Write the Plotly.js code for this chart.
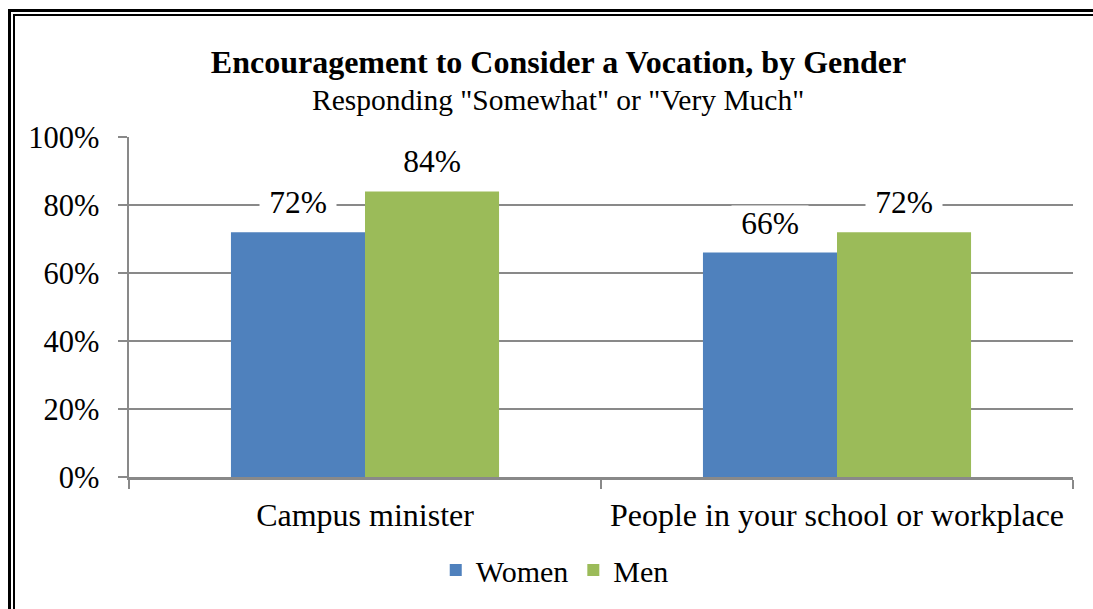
<!DOCTYPE html>
<html>
<head>
<meta charset="utf-8">
<script src="https://cdn.plot.ly/plotly-3.0.1.min.js"></script>
<style>
  html, body { margin: 0; padding: 0; background: #fff; overflow: hidden; }
  #wrap { position: relative; width: 1093px; height: 609px; }
  #chart { position: absolute; left: 0; top: 0; width: 1093px; height: 609px; }
  .frame1 { position: absolute; left: 8px; top: 9px; width: 1200px; height: 800px;
            border-left: 3px solid #000; border-top: 3px solid #000; pointer-events: none; }
  .frame2 { position: absolute; left: 13px; top: 14px; width: 1200px; height: 800px;
            border-left: 2px solid #000; border-top: 2px solid #000; pointer-events: none; }
</style>
</head>
<body>
<div id="wrap">
  <div id="chart"></div>
  <div class="frame1"></div>
  <div class="frame2"></div>
</div>
<script>
const categories = ["Campus minister", "People in your school or workplace"];
const women = [0.72, 0.66];
const men = [0.84, 0.72];
const seriesNames = ["Women", "Men"];
const yTickVals = [0, 0.2, 0.4, 0.6, 0.8, 1.0];
const yTickText = ["0%", "20%", "40%", "60%", "80%", "100%"];
const titleText = "Encouragement to Consider a Vocation, by Gender";
const subtitleText = 'Responding "Somewhat" or "Very Much"';

const FONT = "Liberation Serif, Times New Roman, serif";
const BLUE = "#4f81bd";
const GREEN = "#9bbb59";
const GRID = "#898989";
const BARGAP = 0.432;

const traces = [
  { type: "bar", name: seriesNames[0], x: categories, y: women, marker: { color: BLUE }, hoverinfo: "none" },
  { type: "bar", name: seriesNames[1], x: categories, y: men, marker: { color: GREEN }, hoverinfo: "none" }
];

// data labels with white background, positioned over each bar
const half = (1 - BARGAP) / 4;
const annotations = [];
[women, men].forEach((vals, s) => {
  vals.forEach((v, i) => {
    annotations.push({
      xref: "x", yref: "y",
      x: i + (s === 0 ? -half : half), y: v,
      text: Math.round(v * 100) + "%",
      showarrow: false, yanchor: "bottom", yshift: 11,
      bgcolor: "#ffffff", borderpad: 0,
      font: { family: FONT, size: 31.5, color: "#000" },
      width: 76
    });
  });
});
annotations.push({
  xref: "paper", yref: "paper", x: 0.4545, y: 1.0,
  yshift: 37, xanchor: "center", yanchor: "middle",
  text: subtitleText, showarrow: false,
  font: { family: FONT, size: 29.5, color: "#000" }
});

const layout = {
  width: 1093, height: 609,
  margin: { l: 129, r: 20, t: 137, b: 132, autoexpand: false },
  paper_bgcolor: "#ffffff", plot_bgcolor: "#ffffff",
  title: {
    text: "<b>" + titleText + "</b>",
    x: 0.511, xanchor: "center", y: 0.898, yanchor: "middle",
    font: { family: FONT, size: 32, color: "#000" }
  },
  barmode: "group", bargap: BARGAP, bargroupgap: 0,
  showlegend: true,
  legend: {
    orientation: "h", x: 0.451, xanchor: "center",
    yref: "container", y: 0.064, yanchor: "middle",
    font: { family: FONT, size: 30, color: "#000" },
    itemwidth: 30, tracegroupgap: 0
  },
  xaxis: {
    type: "category",
    tickson: "boundaries",
    ticks: "outside", ticklen: 9, tickcolor: GRID, tickwidth: 2,
    showline: true, linecolor: GRID, linewidth: 2.5,
    showgrid: false, zeroline: false,
    ticklabelstandoff: 8,
    tickfont: { family: FONT, size: 32, color: "#000" },
    fixedrange: true
  },
  yaxis: {
    range: [0, 1], tickvals: yTickVals, ticktext: yTickText,
    ticks: "outside", ticklen: 9, tickcolor: GRID, tickwidth: 2,
    showline: true, linecolor: GRID, linewidth: 2.5,
    showgrid: true, gridcolor: GRID, gridwidth: 2,
    zeroline: false,
    ticklabelstandoff: 12,
    tickfont: { family: FONT, size: 30.5, color: "#000" },
    fixedrange: true
  },
  annotations: annotations,
  font: { family: FONT, color: "#000" }
};

Plotly.newPlot("chart", traces, layout, { displayModeBar: false, staticPlot: true });
</script>
</body>
</html>
